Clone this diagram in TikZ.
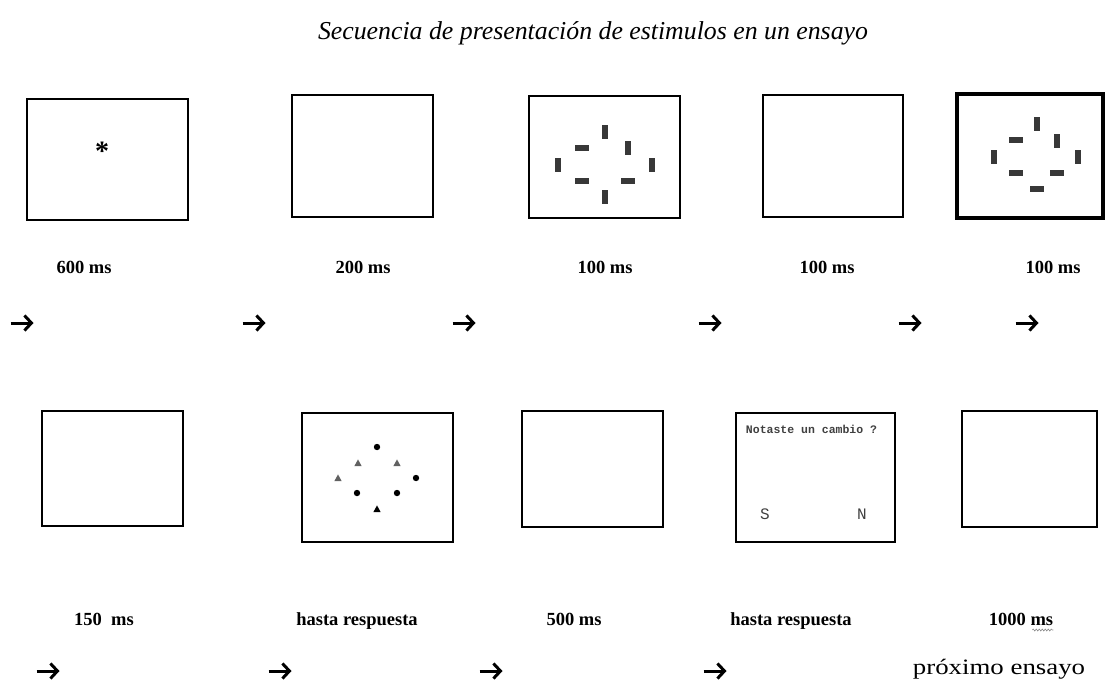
\documentclass[tikz,border=0pt]{standalone}
\usepackage{fontspec}
\setmainfont{Liberation Serif}
\newfontfamily\monof{Liberation Mono}
\usetikzlibrary{arrows.meta,decorations.pathmorphing}
\begin{document}
\begin{tikzpicture}[x=1pt,y=-1pt,
  frame/.style={draw=black,line width=2.2pt,fill=white,inner sep=0pt,outer sep=0pt},
  lab/.style={font=\bfseries\fontsize{18.5}{20}\selectfont,inner sep=0pt,anchor=base},
  seqarr/.style={line width=3pt,-{Straight Barb[length=7pt,width=15pt]}},
  scr/.style={font=\monof\bfseries\fontsize{11.5}{12}\selectfont,text=black!75,inner sep=0pt},
  vb/.pic={\fill[black!78] (-2.8,-7) rectangle (2.8,7);},
  hb/.pic={\fill[black!78] (-7,-2.6) rectangle (7,2.6);},
  dot/.pic={\fill[black] (0,0) circle (3.2);},
  tri/.pic={\fill (-3.6,3) -- (3.6,3) -- (0,-3.6) -- cycle;}
]
\useasboundingbox (0,0) rectangle (1110,683);

% title
\node[font=\itshape\fontsize{25.8}{30}\selectfont,anchor=base,inner sep=0pt] (title) at (593,39)
  {Secuencia de presentación de estimulos en un ensayo};

% ---- row 1 frames ----
\node[frame,minimum width=161pt,minimum height=121pt] (f1) at (107.5,159.5) {};
\node[frame,minimum width=141pt,minimum height=122pt] (f2) at (362.5,156) {};
\node[frame,minimum width=151pt,minimum height=122pt] (f3) at (604.5,157) {};
\node[frame,minimum width=140pt,minimum height=122pt] (f4) at (833,156) {};
\node[frame,line width=3.2pt,minimum width=146pt,minimum height=124pt] (f5) at (1030,156) {};

% fixation
\node[font=\bfseries\fontsize{28}{28}\selectfont,inner sep=0pt,anchor=base] (fix) at (102,160) {*};

% stimulus 1 (bars)
\pic at (605,132) {vb}; \pic at (628,148) {vb}; \pic at (558,165) {vb};
\pic at (652,165) {vb}; \pic at (605,197) {vb};
\pic at (582,148) {hb}; \pic at (582,181) {hb}; \pic at (628,181) {hb};

% stimulus 2 (bars)
\pic at (1037,124) {vb}; \pic at (1057,141) {vb}; \pic at (994,157) {vb}; \pic at (1078,157) {vb};
\pic at (1016,140) {hb}; \pic at (1016,173) {hb}; \pic at (1057,173) {hb}; \pic at (1037,189) {hb};

% row 1 labels
\node[lab] (l1) at (84,273) {600 ms};
\node[lab] (l2) at (363,273) {200 ms};
\node[lab] (l3) at (605,273) {100 ms};
\node[lab] (l4) at (827,273) {100 ms};
\node[lab] (l5) at (1053,273) {100 ms};

% row 1 arrows
\foreach \i/\cx in {1/22,2/254,3/464,4/710,5/910,6/1027}{
  \coordinate (a\i s) at (\cx-11.5,323);
  \coordinate (a\i e) at (\cx+11.5,323);
  \draw[seqarr] (a\i s) -- (a\i e);
}

% ---- row 2 frames ----
\node[frame,minimum width=141pt,minimum height=115pt] (g1) at (112.5,468.5) {};
\node[frame,minimum width=151pt,minimum height=129pt] (g2) at (377.5,477.5) {};
\node[frame,minimum width=141pt,minimum height=116pt] (g3) at (592.5,469) {};
\node[frame,minimum width=159pt,minimum height=129pt] (g4) at (815.5,477.5) {};
\node[frame,minimum width=135pt,minimum height=116pt] (g5) at (1029.5,469) {};

% test display (dots and triangles)
\pic at (377,447) {dot}; \pic at (416,478) {dot}; \pic at (357,493) {dot}; \pic at (397,493) {dot};
\pic[black!62] at (358,463) {tri}; \pic[black!62] at (397,463) {tri}; \pic[black!62] at (338,478) {tri};
\pic[black] at (377,509) {tri};

% question screen
\node[scr] (q) at (811.5,429) {Notaste un cambio ?};
\node[scr,font=\monof\fontsize{16}{16}\selectfont] (qs) at (765,514) {S};
\node[scr,font=\monof\fontsize{16}{16}\selectfont] (qn) at (862,514) {N};

% row 2 labels
\node[lab] (m1) at (104,625) {150\enspace ms};
\node[lab] (m2) at (357,625) {hasta respuesta};
\node[lab] (m3) at (574,625) {500 ms};
\node[lab] (m4) at (791,625) {hasta respuesta};
\node[lab] (m5) at (1021,625) {1000 ms};
\path (m5.base east) ++(-21,5) coordinate (w1) ++(21,0) coordinate (w2);
\draw[black!45,line width=0.6pt,decorate,decoration={snake,amplitude=1pt,segment length=3pt}] (w1) -- (w2);

% row 2 arrows
\foreach \i/\cx in {1/48,2/280,3/491,4/715}{
  \coordinate (b\i s) at (\cx-11.5,671);
  \coordinate (b\i e) at (\cx+11.5,671);
  \draw[seqarr] (b\i s) -- (b\i e);
}

\node[font=\fontsize{22}{24}\selectfont,inner sep=0pt,anchor=base] (next) at (999,674)
  {\scalebox{1.22}[1]{próximo ensayo}};
\end{tikzpicture}
\end{document}
